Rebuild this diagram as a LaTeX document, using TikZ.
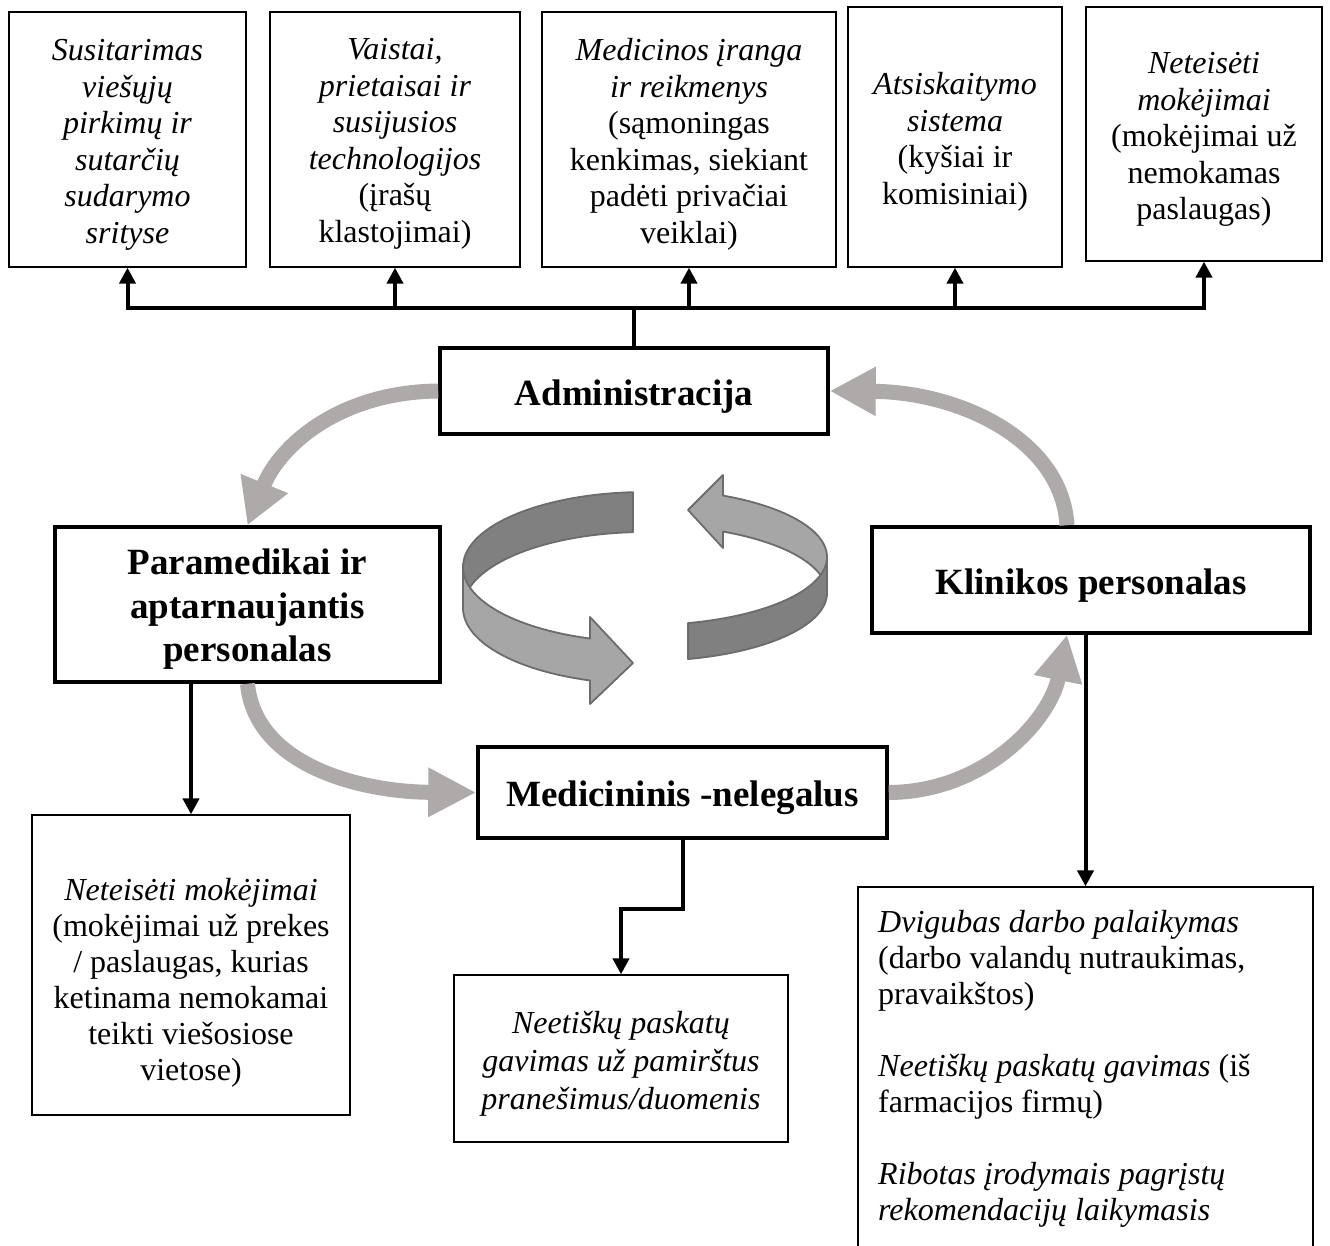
\documentclass[tikz,border=0pt]{standalone}
\usepackage{fontspec}
\setmainfont{Liberation Serif}
\usetikzlibrary{arrows.meta,calc}
\definecolor{flowgray}{RGB}{173,170,169}
\definecolor{ringdark}{RGB}{128,128,128}
\definecolor{ringlight}{RGB}{166,166,166}
\definecolor{ringedge}{RGB}{108,108,108}
\newcommand{\liftline}[1]{\rule{0pt}{#1}}
\begin{document}
\begin{tikzpicture}[x=1pt,y=-1pt,
  topbox/.style={draw, line width=1.3pt, fill=white, align=center, inner sep=0pt,
    font=\fontsize{32}{36.5}\selectfont},
  textbox/.style={draw, line width=1.3pt, fill=white, align=center, inner sep=0pt,
    font=\fontsize{32}{36}\selectfont},
  rolebox/.style={draw, line width=3.5pt, fill=white, align=center, inner sep=0pt,
    font=\bfseries\fontsize{37}{43.5}\selectfont},
  conn/.style={line width=4pt, -{Triangle[width=16pt,length=16pt]}},
  flow/.style={draw=flowgray, line width=15pt},
  ringface/.style={draw=ringedge, line width=1.8pt, line join=round}
]
\useasboundingbox (0,0) rectangle (1330,1245);
\clip (0,0) rectangle (1330,1245);

% top boxes
\node[topbox, minimum width=237pt, minimum height=255pt] (t1) at (127.5,139.5)
  {\liftline{32pt}\textit{Susitarimas}\\\textit{viešųjų}\\\textit{pirkimų ir}\\\textit{sutarčių}\\\textit{sudarymo}\\\textit{srityse}};
\node[topbox, minimum width=250pt, minimum height=255pt] (t2) at (395,139.5)
  {\liftline{30pt}\textit{Vaistai,}\\\textit{prietaisai ir}\\\textit{susijusios}\\\textit{technologijos}\\(įrašų\\klastojimai)};
\node[topbox, minimum width=294pt, minimum height=255pt] (t3) at (689,139.5)
  {\liftline{32pt}\textit{Medicinos įranga}\\\textit{ir reikmenys}\\(sąmoningas\\kenkimas, siekiant\\padėti privačiai\\veiklai)};
\node[topbox, minimum width=214pt, minimum height=260pt] (t4) at (955,137)
  {\liftline{32pt}\textit{Atsiskaitymo}\\\textit{sistema}\\(kyšiai ir\\komisiniai)};
\node[topbox, minimum width=236pt, minimum height=254pt] (t5) at (1204,134)
  {\liftline{32pt}\textit{Neteisėti}\\\textit{mokėjimai}\\(mokėjimai už\\nemokamas\\paslaugas)};

% role boxes
\node[rolebox, minimum width=388pt, minimum height=86pt] (adm) at (634,391)
  {\liftline{36pt}Administracija};
\node[rolebox, minimum width=385pt, minimum height=155pt] (para) at (247.5,604.5)
  {\liftline{35pt}Paramedikai ir\\aptarnaujantis\\personalas};
\node[rolebox, minimum width=438pt, minimum height=106pt] (klin) at (1091,580)
  {\liftline{36pt}Klinikos personalas};
\node[rolebox, minimum width=409pt, minimum height=91pt] (med) at (682.5,792.5)
  {\liftline{36pt}Medicininis -nelegalus};

% bottom boxes
\node[textbox, minimum width=318pt, minimum height=300pt] (bl) at (191,965)
  {\liftline{58pt}\textit{Neteisėti mokėjimai}\\(mokėjimai už prekes\\/ paslaugas, kurias\\ketinama nemokamai\\teikti viešosiose\\vietose)};
\node[textbox, minimum width=334pt, minimum height=167pt, font=\fontsize{32}{38}\selectfont] (bm) at (621,1058.5)
  {\liftline{32pt}\textit{Neetiškų paskatų}\\\textit{gavimas už pamirštus}\\\textit{pranešimus/duomenis}};
\node[textbox, minimum width=455pt, minimum height=400pt] (br) at (1085.5,1087) {};
\node[anchor=north west, inner sep=0pt, align=left, font=\fontsize{32}{36}\selectfont] (brtext) at (878,910)
  {\textit{Dvigubas darbo palaikymas}\\(darbo valandų nutraukimas,\\pravaikštos)\\[36pt]
   \textit{Neetiškų paskatų gavimas} (iš\\farmacijos firmų)\\[36pt]
   \textit{Ribotas įrodymais pagrįstų}\\\textit{rekomendacijų laikymasis}};

% black connectors
\coordinate (bus) at (634,308);
\foreach \t in {t1,t2,t3,t4,t5}
  \draw[conn] (adm.north) |- (\t.south |- bus) -- (\t.south);
\draw[conn] (bl.north |- para.south) -- (bl.north);
\draw[conn] (med.south) -- ++(0,69) -| (bm.north);
\draw[conn] (br.north |- klin.south) -- (br.north);

% grey flow arrows
\draw[flow, -{Triangle[width=48pt,length=45pt]}] (adm.west) .. controls (340,392) and (280,445) .. (para.north);
\draw[flow, -{Triangle[width=46pt,length=48pt]}] (para.south) .. controls (255,765) and (360,792) .. (med.west);
\draw[flow, -{Triangle[width=46pt,length=46pt]}] (med.east) .. controls (985,792) and (1050,720) .. ($(klin.south)+(-24,0)$);
\draw[flow, -{Triangle[width=46pt,length=46pt]}] ($(klin.north)+(-24,0)$) .. controls (1062,440) and (960,392) .. (adm.east);

% central ring of two arrows
\filldraw[ringface, fill=ringdark]
  plot[domain=266.2:180, samples=40] ({645+182*cos(\x)},{567+75*sin(\x)})
  -- plot[domain=180:266.2, samples=40] ({645+182*cos(\x)},{608+76*sin(\x)}) -- cycle;
\filldraw[ringface, fill=ringlight]
  plot[domain=180:107.6, samples=40] ({645+182*cos(\x)},{567+75*sin(\x)})
  -- (590,617) -- (633,663) -- (590,704)
  -- plot[domain=107.6:180, samples=40] ({645+182*cos(\x)},{608+76*sin(\x)}) -- cycle;
\filldraw[ringface, fill=ringlight]
  plot[domain=295.4:360, samples=40] ({645+182*cos(\x)},{557+68*sin(\x)})
  -- plot[domain=360:295.4, samples=40] ({645+182*cos(\x)},{593+68*sin(\x)})
  -- (723,548) -- (688,510) -- (723,475) -- cycle;
\filldraw[ringface, fill=ringdark]
  plot[domain=0:76.3, samples=40] ({645+182*cos(\x)},{557+68*sin(\x)})
  -- plot[domain=76.3:0, samples=40] ({645+182*cos(\x)},{593+68*sin(\x)}) -- cycle;
\end{tikzpicture}
\end{document}
